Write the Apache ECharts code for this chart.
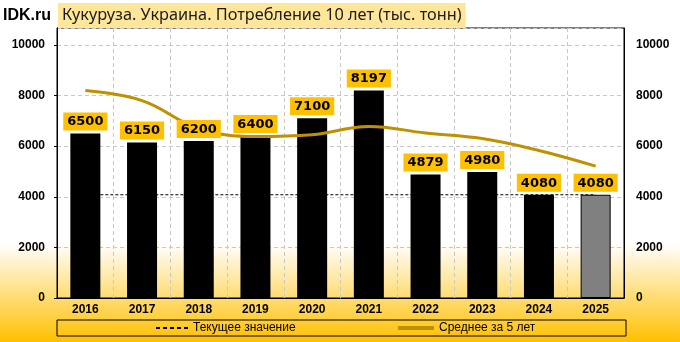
<!DOCTYPE html>
<html>
<head>
    <meta charset="UTF-8">
    <script src="https://cdn.jsdelivr.net/npm/echarts@6/dist/echarts.min.js"></script>
    <style type="text/css">
        html, body {
            margin: 0;
            padding: 0;
        }

        #chart {
            width: 680px;
            height: 342px;
        }
    </style>
</head>
<body>
    <div id="chart"></div>
    <script type="text/javascript">
        'use strict';
        var years = ['2016', '2017', '2018', '2019', '2020', '2021', '2022', '2023', '2024', '2025'];
        var consumption = [6500, 6150, 6200, 6400, 7100, 8197, 4879, 4980, 4080, 4080];
        var avg5 = [8200, 7800, 6700, 6380, 6450, 6780, 6520, 6300, 5830, 5210];
        var current = [4080, 4080, 4080, 4080, 4080, 4080, 4080, 4080, 4080, 4080];

        var axisFont = { fontFamily: 'Liberation Sans', fontWeight: 'bold', fontSize: 12, color: '#000' };
        var plain = function (v) { return String(v); };

        var barData = consumption.map(function (v, i) {
            if (i === consumption.length - 1) {
                return { value: v, itemStyle: { color: '#808080', borderColor: '#000', borderWidth: 1 } };
            }
            return v;
        });

        var chart = echarts.init(document.getElementById('chart'));
        chart.setOption({
            backgroundColor: {
                type: 'linear', x: 0, y: 0, x2: 0, y2: 1,
                colorStops: [
                    { offset: 0, color: '#FFFFFF' },
                    { offset: 0.71, color: '#FFFFFF' },
                    { offset: 1, color: '#FFC000' }
                ]
            },
            animation: false,
            title: [{
                text: 'Кукуруза. Украина. Потребление 10 лет (тыс. тонн)',
                left: 58, top: 3,
                padding: [4, 4, 5, 4],
                backgroundColor: '#FFE699',
                textStyle: { fontFamily: 'Noto Sans', fontWeight: 'normal', fontSize: 16.3, color: '#1a1a1a' }
            }, {
                text: 'IDK.ru',
                left: 3, top: 8,
                padding: 0,
                textStyle: { fontFamily: 'Liberation Sans', fontWeight: 'bold', fontSize: 16, color: '#000' }
            }],
            grid: {
                left: 57, right: 56, top: 28, bottom: 44,
                show: true, borderColor: '#000', borderWidth: 1
            },
            legend: [{
                left: 156, top: 322, padding: 0,
                itemWidth: 32, itemHeight: 2,
                textStyle: { fontFamily: 'Liberation Sans', fontSize: 12, color: '#000' },
                data: [{ name: 'Текущее значение', icon: 'path://M0,0h4v2h-4z M7,0h4v2h-4z M14,0h4v2h-4z M21,0h4v2h-4z M28,0h4v2h-4z' }]
            }, {
                left: 398, top: 322, padding: 0,
                itemWidth: 36, itemHeight: 4,
                textStyle: { fontFamily: 'Liberation Sans', fontSize: 12, color: '#000' },
                data: [{ name: 'Среднее за 5 лет', icon: 'rect' }]
            }],
            graphic: [{
                type: 'rect',
                shape: { x: 57, y: 320, width: 569, height: 16 },
                style: { fill: 'none', stroke: '#000', lineWidth: 1 },
                z: 0
            }],
            xAxis: {
                type: 'category',
                data: years,
                axisLine: { lineStyle: { color: '#000' } },
                axisTick: { show: false },
                axisLabel: Object.assign({ margin: 6 }, axisFont),
                splitLine: { show: true, lineStyle: { color: '#C8C8C8', type: [4, 3] } }
            },
            yAxis: [{
                type: 'value', min: 0, max: 10670, interval: 2000,
                axisLine: { show: true, lineStyle: { color: '#000' } },
                axisTick: { show: true, length: 3, lineStyle: { color: '#000' } },
                axisLabel: Object.assign({ showMaxLabel: false, margin: 12, formatter: plain }, axisFont),
                splitLine: { lineStyle: { color: '#C8C8C8', type: [4, 3] } }
            }, {
                type: 'value', min: 0, max: 10670, interval: 2000, position: 'right',
                axisLine: { show: true, lineStyle: { color: '#000' } },
                axisTick: { show: false },
                axisLabel: Object.assign({ showMaxLabel: false, margin: 12, formatter: plain }, axisFont),
                splitLine: { show: false }
            }],
            series: [{
                name: 'Текущее значение',
                type: 'line',
                data: current,
                symbol: 'none',
                z: 1,
                color: '#000',
                lineStyle: { color: '#000', width: 1, type: [3, 2] }
            }, {
                name: 'Потребление',
                type: 'bar',
                data: barData,
                barWidth: 30,
                z: 2,
                itemStyle: { color: '#000' }
            }, {
                name: 'Среднее за 5 лет',
                type: 'line',
                data: avg5,
                smooth: 0.4,
                symbol: 'none',
                z: 3,
                color: '#BF9000',
                lineStyle: { color: '#BF9000', width: 3 }
            }, {
                // invisible copy of the bars that only carries the value labels above the line
                name: 'labels',
                type: 'bar',
                data: consumption,
                barWidth: 30,
                barGap: '-100%',
                z: 4,
                silent: true,
                itemStyle: { color: 'rgba(0,0,0,0)' },
                label: {
                    show: true,
                    position: 'top',
                    distance: 3,
                    backgroundColor: '#FFC000',
                    padding: [3, 4, 2, 4],
                    fontFamily: 'DejaVu Sans',
                    fontWeight: 'bold',
                    fontSize: 13,
                    color: '#000'
                }
            }]
        });
    </script>
</body>
</html>
